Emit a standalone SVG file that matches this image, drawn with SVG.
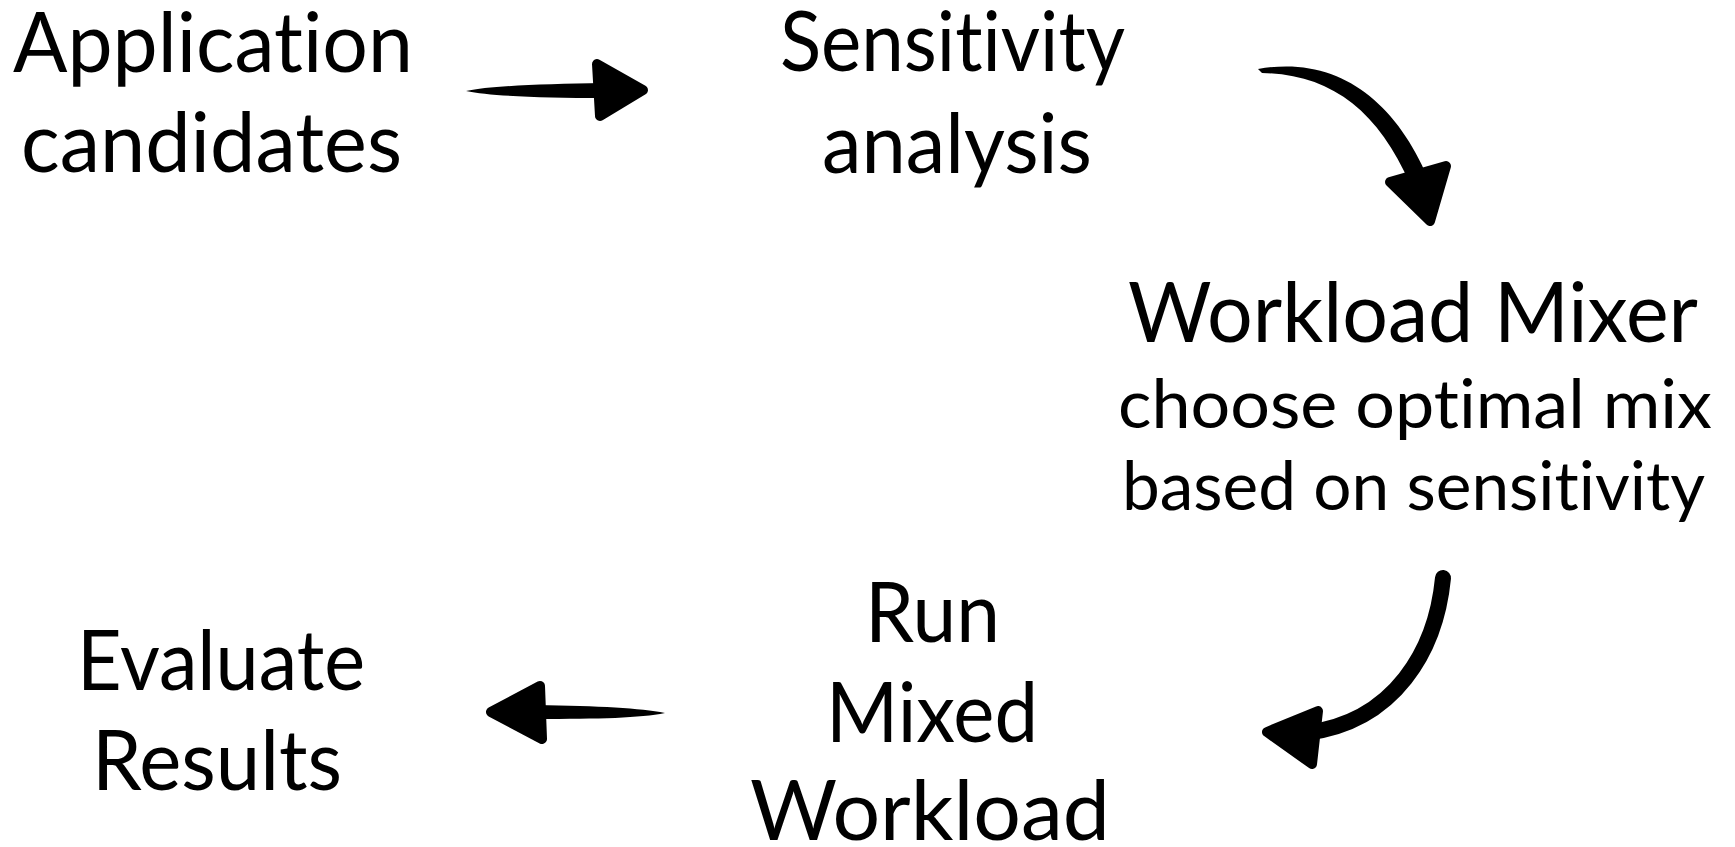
<svg xmlns="http://www.w3.org/2000/svg" width="1735" height="847" viewBox="0 0 1735 847">
<style>
.t{font-family:Lato,"Liberation Sans",sans-serif;font-size:84px;fill:#000;font-variant-ligatures:none}
.s{font-size:68px}
.ink{fill:#000}
.head{fill:#000;stroke:#000;stroke-width:10;stroke-linejoin:round}
.shaft{fill:none;stroke:#000;stroke-width:16;stroke-linecap:round}
</style>
<rect width="1735" height="847" fill="#fff"/>
<g id="node-application"><text class="t" x="13" y="72" textLength="400" lengthAdjust="spacingAndGlyphs">Application</text><text class="t" x="21" y="172" textLength="381" lengthAdjust="spacingAndGlyphs">candidates</text></g>
<g id="node-sensitivity"><text class="t" x="780" y="71" textLength="345" lengthAdjust="spacingAndGlyphs">Sensitivity</text><text class="t" x="822" y="173" textLength="270" lengthAdjust="spacingAndGlyphs">analysis</text></g>
<g id="node-mixer"><text class="t" x="1128" y="342" textLength="570" lengthAdjust="spacingAndGlyphs">Workload Mixer</text><text class="t s" x="1118" y="428" textLength="594" lengthAdjust="spacingAndGlyphs">choose optimal mix</text><text class="t s" x="1122" y="510" textLength="583" lengthAdjust="spacingAndGlyphs">based on sensitivity</text></g>
<g id="node-run"><text class="t" x="865" y="642" textLength="135" lengthAdjust="spacingAndGlyphs">Run</text><text class="t" x="826" y="742" textLength="212" lengthAdjust="spacingAndGlyphs">Mixed</text><text class="t" x="750" y="840" textLength="360" lengthAdjust="spacingAndGlyphs">Workload</text></g>
<g id="node-evaluate"><text class="t" x="77" y="690" textLength="288" lengthAdjust="spacingAndGlyphs">Evaluate</text><text class="t" x="92" y="790" textLength="250" lengthAdjust="spacingAndGlyphs">Results</text></g>
<g id="connectors">
<path class="ink" d="M466,91 C490,86 540,84 604,83 L604,98 C540,98 490,96 466,91 Z"/>
<polygon class="head" points="597,64 643,90 600,116"/>
<path class="ink" d="M1258,69 C1335,55 1394,98 1428,178 L1410,184 C1378,110 1330,74 1262,73 Z"/>
<polygon class="head" points="1390,182 1446,166 1430,221"/>
<path class="shaft" d="M1443,578 C1436,650 1395,722 1306,733"/>
<polygon class="head" points="1318,711 1267,732 1312,764"/>
<path class="ink" d="M665,713 C640,708 600,706 536,705 L536,719 C600,719 640,718 665,713 Z"/>
<polygon class="head" points="540,686 491,712 542,739"/>
</g>
</svg>
